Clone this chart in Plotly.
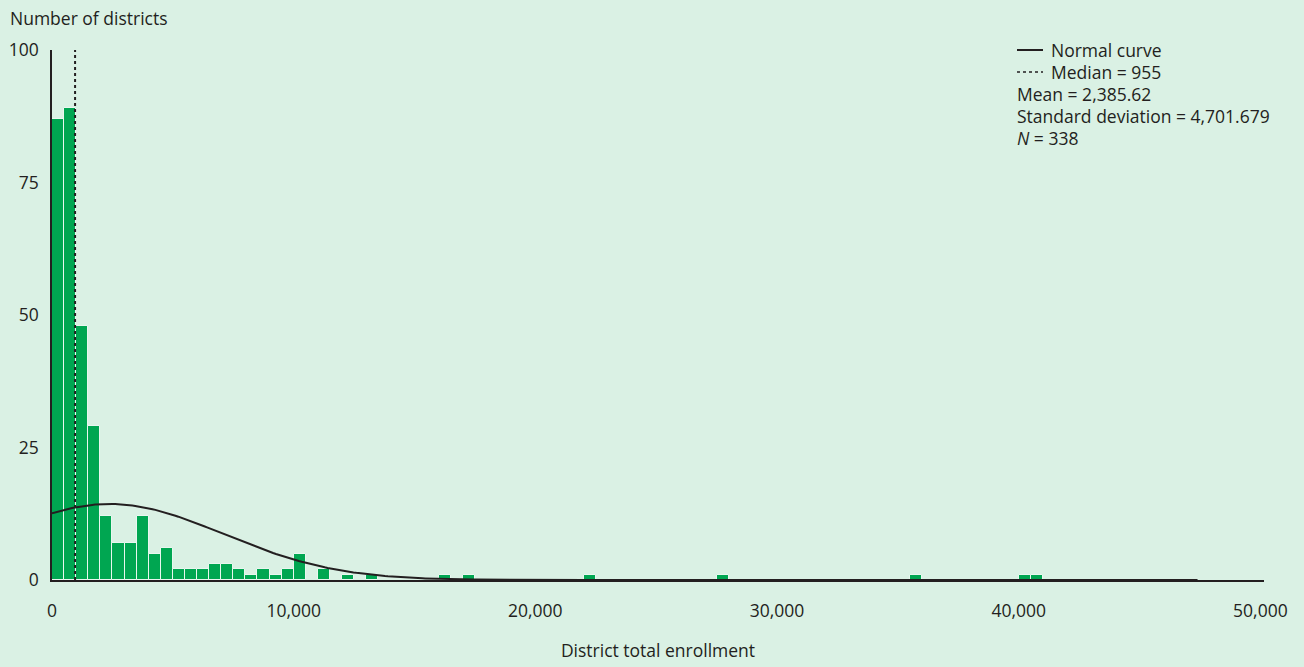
import numpy as np
import plotly.graph_objects as go

# ---- data ----
bin_width = 500
bin_start = [0, 500, 1000, 1500, 2000, 2500, 3000, 3500, 4000, 4500,
             5000, 5500, 6000, 6500, 7000, 7500, 8000, 8500, 9000, 9500,
             10000, 11000, 12000, 13000, 16000, 17000, 22000, 27500,
             35500, 40000, 40500]
counts = [87, 89, 48, 29, 12, 7, 7, 12, 5, 6,
          2, 2, 2, 3, 3, 2, 1, 2, 1, 2,
          5, 2, 1, 1, 1, 1, 1, 1,
          1, 1, 1]
median = 955
mean = 2385.62
std = 4701.679
n_obs = 338
curve_max = 47400

x_ticks = [0, 10000, 20000, 30000, 40000, 50000]
x_tick_labels = ["0", "10,000", "20,000", "30,000", "40,000", "50,000"]
y_ticks = [0, 25, 50, 75, 100]
y_tick_labels = ["0", "25", "50", "75", "100"]

legend_lines = ["Normal curve", "Median = 955", "Mean = 2,385.62",
                "Standard deviation = 4,701.679", "<i>N</i> = 338"]

# ---- style ----
BG = "#daf1e4"
GREEN = "#00a651"
INK = "#231f20"
FONT = "Open Sans"
FS = 17.5

W, H = 1304, 667
L, R, T, B = 52, 40, 50, 87

fig = go.Figure()

centers = [s + bin_width / 2 for s in bin_start]
fig.add_trace(go.Bar(x=centers, y=counts, width=bin_width,
                     marker=dict(color=GREEN, line=dict(color="#e9f7ef", width=1)),
                     showlegend=False, hoverinfo="x+y"))

xs = np.linspace(0, curve_max, 400)
ys = n_obs * bin_width / (std * np.sqrt(2 * np.pi)) * np.exp(-0.5 * ((xs - mean) / std) ** 2)
fig.add_trace(go.Scatter(x=xs, y=ys, mode="lines", line=dict(color=INK, width=2),
                         showlegend=False, hoverinfo="skip"))

fig.add_shape(type="line", x0=median, x1=median, y0=0, y1=101, xref="x", yref="y",
              line=dict(color=INK, width=2, dash="dot"))

# manual legend (pixel positions converted to paper coords)
pw = W - L - R
ph = H - T - B
def px(x):
    return (x - L) / pw
def py(y):
    return (H - B - y) / ph

line_y = [50, 72, 94, 116, 138]
fig.add_shape(type="line", xref="paper", yref="paper", x0=px(1017), x1=px(1043),
              y0=py(line_y[0]), y1=py(line_y[0]), line=dict(color=INK, width=2))
fig.add_shape(type="line", xref="paper", yref="paper", x0=px(1017), x1=px(1043),
              y0=py(line_y[1]), y1=py(line_y[1]), line=dict(color=INK, width=1.5, dash="dot"))
for i, txt in enumerate(legend_lines):
    x0 = 1049 if i < 2 else 1015
    fig.add_annotation(text=txt, xref="paper", yref="paper", x=px(x0), y=py(line_y[i]),
                       xanchor="left", yanchor="middle", showarrow=False,
                       font=dict(family=FONT, size=FS, color=INK))

fig.add_annotation(text="Number of districts", xref="paper", yref="paper",
                   x=px(8), y=py(18), xanchor="left", yanchor="middle", showarrow=False,
                   font=dict(family=FONT, size=FS, color=INK))

fig.update_layout(
    width=W, height=H,
    margin=dict(l=L, r=R, t=T, b=B, pad=0, autoexpand=False),
    paper_bgcolor=BG, plot_bgcolor=BG,
    bargap=0,
    font=dict(family=FONT, size=FS, color=INK),
    xaxis=dict(range=[0, 50150], tickvals=x_ticks, ticktext=x_tick_labels,
               showgrid=False, zeroline=False, showline=True, linecolor=INK, linewidth=1.5,
               ticks="outside", ticklen=0, ticklabelstandoff=14, automargin=False,
               title=dict(text="District total enrollment", standoff=24,
                          font=dict(family=FONT, size=FS, color=INK))),
    yaxis=dict(range=[0, 100], tickvals=y_ticks, ticktext=y_tick_labels,
               showgrid=False, zeroline=False, showline=True, linecolor=INK, linewidth=1.5,
               ticks="outside", ticklen=0, ticklabelstandoff=8, automargin=False),
)

fig.write_html("out.html")
